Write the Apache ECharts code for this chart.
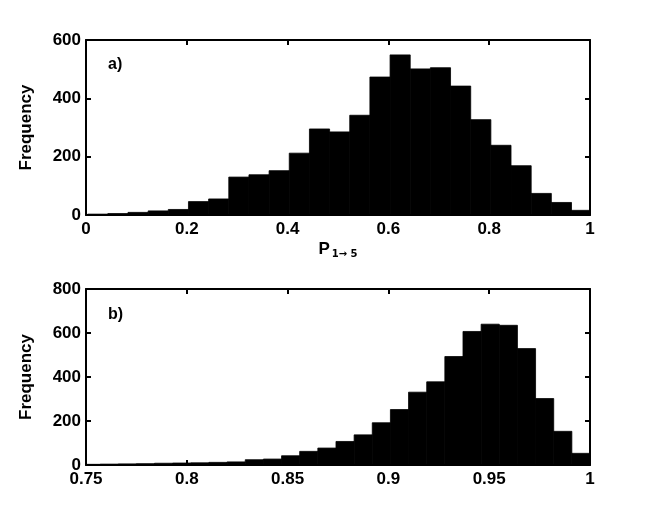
<!DOCTYPE html>
<html>
<head>
<meta charset="utf-8">
<script src="https://cdn.jsdelivr.net/npm/echarts@6/dist/echarts.min.js"></script>
<style>html,body{margin:0;padding:0;background:#fff;}#main{width:654px;height:528px;}</style>
</head>
<body>
<div id="main"></div>
<script>
// ---- data ----
// panel a) histogram of P(1->5)
const topBinStart = 0.0033;
const topBinWidth = 0.04;
const topCounts = [3, 5, 9, 14, 19, 46, 55, 130, 138, 152, 212, 295, 285, 342, 473, 549, 501, 505, 442, 327, 239, 169, 74, 43, 16];
const topXTicks = [0, 0.2, 0.4, 0.6, 0.8, 1];
const topYTicks = [0, 200, 400, 600];
// panel b)
const bottomBinStart = 0.748;
const bottomBinWidth = 0.009;
const bottomCounts = [3, 4, 5, 6, 8, 9, 10, 12, 14, 24, 27, 42, 62, 77, 107, 137, 192, 252, 331, 378, 493, 607, 640, 635, 529, 302, 153, 53];
const bottomXTicks = [0.75, 0.8, 0.85, 0.9, 0.95, 1];
const bottomYTicks = [0, 200, 400, 600, 800];
const yName = 'Frequency';
const panelLabels = ['a)', 'b)'];

function bins(start, width, counts) {
  return counts.map((c, i) => [start + i * width, start + (i + 1) * width, c]);
}

const font = 'Liberation Sans, Arial, Helvetica, sans-serif';
const lbl = { color: '#000', fontWeight: 'bold', fontSize: 17, fontFamily: font };

function renderBar(params, api) {
  const p0 = api.coord([api.value(0), api.value(2)]);
  const p1 = api.coord([api.value(1), 0]);
  const rect = { x: p0[0], y: p0[1], width: p1[0] - p0[0], height: p1[1] - p0[1] };
  const c = params.coordSys;
  const clipped = echarts.graphic.clipRectByRect(rect, { x: c.x, y: c.y, width: c.width, height: c.height });
  if (!clipped) return;
  return { type: 'rect', shape: clipped, style: { fill: '#000', stroke: '#000', lineWidth: 0.8 } };
}

const grids = [
  { left: 86, right: 64, top: 40, height: 175 },
  { left: 86, right: 64, top: 289, height: 176 }
];

function xAx(gi, ticks, showLabel, pos, name) {
  const iv = ticks[1] - ticks[0];
  const o = {
    type: 'value', gridIndex: gi, position: pos,
    min: ticks[0], max: ticks[ticks.length - 1], interval: iv,
    axisLine: { show: true, onZero: false, lineStyle: { color: '#000', width: 2 } },
    axisTick: { show: true, inside: true, length: 5, lineStyle: { color: '#000', width: 2 } },
    axisLabel: Object.assign({ show: showLabel, margin: 6, formatter: v => String(+v.toFixed(4)) }, lbl),
    splitLine: { show: false }
  };
  if (name) {
    o.name = name;
    o.nameLocation = 'middle';
    o.nameGap = 25;
    o.nameTextStyle = {
      rich: {
        p: { fontSize: 17, fontWeight: 'bold', fontFamily: font, color: '#000' },
        s: { fontSize: 10, fontWeight: 'bold', fontFamily: 'DejaVu Sans', color: '#000', padding: [9, 0, 0, 2] }
      }
    };
  }
  return o;
}
function yAx(gi, ticks, showLabel, pos, name) {
  const o = {
    type: 'value', gridIndex: gi, position: pos,
    min: ticks[0], max: ticks[ticks.length - 1], interval: ticks[1] - ticks[0],
    axisLine: { show: true, onZero: false, lineStyle: { color: '#000', width: 2 } },
    axisTick: { show: true, inside: true, length: 5, lineStyle: { color: '#000', width: 2 } },
    axisLabel: Object.assign({ show: showLabel, margin: 5 }, lbl),
    splitLine: { show: false }
  };
  if (name) {
    o.name = name;
    o.nameLocation = 'middle';
    o.nameGap = 51;
    o.nameTextStyle = Object.assign({}, lbl);
  }
  return o;
}

const option = {
  backgroundColor: '#fff',
  animation: false,
  grid: grids,
  xAxis: [
    xAx(0, topXTicks, true, 'bottom', '{p|P}{s|1\u2192 5}'),
    xAx(0, topXTicks, false, 'top'),
    xAx(1, bottomXTicks, true, 'bottom'),
    xAx(1, bottomXTicks, false, 'top')
  ],
  yAxis: [
    yAx(0, topYTicks, true, 'left', yName),
    yAx(0, topYTicks, false, 'right'),
    yAx(1, bottomYTicks, true, 'left', yName),
    yAx(1, bottomYTicks, false, 'right')
  ],
  series: [
    { type: 'custom', xAxisIndex: 0, yAxisIndex: 0, renderItem: renderBar, data: bins(topBinStart, topBinWidth, topCounts), z: 1 },
    { type: 'custom', xAxisIndex: 2, yAxisIndex: 2, renderItem: renderBar, data: bins(bottomBinStart, bottomBinWidth, bottomCounts), z: 1 }
  ],
  graphic: [
    { type: 'text', left: 108, top: 57, style: { text: panelLabels[0], fill: '#000', font: 'bold 16px ' + font } },
    { type: 'text', left: 108, top: 307, style: { text: panelLabels[1], fill: '#000', font: 'bold 16px ' + font } }
  ]
};

const chart = echarts.init(document.getElementById('main'), null, { renderer: 'canvas' });
chart.setOption(option);
</script>
</body>
</html>
